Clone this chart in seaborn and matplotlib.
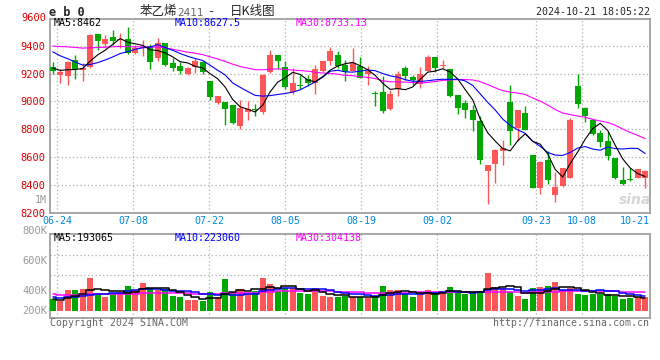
import numpy as np
import pandas as pd
import matplotlib
matplotlib.use("Agg")
import matplotlib.pyplot as plt
import seaborn as sns

# eb0 daily candles, 2024-06-21 .. 2024-10-21 (80 sessions)
open_ = [9250, 9188, 9181, 9300, 9225, 9245, 9486, 9412, 9460, 9440,
         9450, 9345, 9385, 9395, 9312, 9419, 9276, 9252, 9193, 9245,
         9281, 9145, 8990, 8998, 8974, 8824, 8926, 8948, 8926, 9212,
         9329, 9245, 9069, 9119, 9164, 9133, 9221, 9288, 9329, 9260,
         9221, 9252, 9198, 9062, 9069, 8943, 9086, 9236, 9174, 9126,
         9221, 9319, 9252, 9229, 9045, 8990, 8936, 8860, 8500, 8550,
         8645, 8998, 8807, 8919, 8614, 8383, 8579, 8331, 8395, 8455,
         9114, 8955, 8864, 8771, 8717, 8598, 8436, 8448, 8455, 8455]
high = [9280, 9229, 9290, 9336, 9276, 9482, 9486, 9479, 9514, 9490,
        9533, 9407, 9443, 9412, 9455, 9419, 9312, 9283, 9245, 9312,
        9290, 9145, 9038, 8998, 8974, 9014, 9000, 8983, 9198, 9367,
        9329, 9288, 9236, 9188, 9186, 9264, 9290, 9388, 9360, 9300,
        9383, 9317, 9252, 9074, 9181, 9079, 9221, 9252, 9188, 9245,
        9336, 9319, 9300, 9229, 9045, 9007, 8974, 8895, 8545, 8657,
        8721, 9121, 8940, 8967, 8614, 8574, 8648, 8498, 8521, 8883,
        9193, 8964, 8864, 8795, 8788, 8598, 8533, 8526, 8519, 8507]
low = [9200, 9133, 9121, 9164, 9150, 9240, 9371, 9383, 9407, 9383,
       9340, 9340, 9324, 9229, 9288, 9252, 9217, 9193, 9188, 9205,
       9195, 9007, 8979, 8831, 8836, 8800, 8864, 8895, 8912, 9205,
       9229, 9086, 9055, 9086, 9110, 9057, 9212, 9264, 9240, 9145,
       9217, 9169, 9117, 8967, 8919, 8936, 9038, 9157, 9117, 9093,
       9217, 9212, 9236, 9031, 8907, 8883, 8788, 8555, 8269, 8419,
       8545, 8688, 8717, 8795, 8379, 8340, 8407, 8283, 8390, 8450,
       8950, 8855, 8760, 8674, 8579, 8443, 8402, 8431, 8450, 8379]
close = [9215, 9212, 9283, 9229, 9240, 9479, 9436, 9450, 9436, 9450,
         9348, 9379, 9393, 9281, 9419, 9264, 9240, 9217, 9240, 9293,
         9210, 9031, 9038, 8943, 8848, 8950, 8945, 8938, 9186, 9329,
         9293, 9102, 9133, 9110, 9129, 9229, 9288, 9364, 9257, 9212,
         9276, 9169, 9221, 9055, 8931, 9057, 9198, 9181, 9152, 9198,
         9319, 9236, 9264, 9038, 8950, 8936, 8871, 8579, 8545, 8652,
         8669, 8788, 8940, 8795, 8383, 8567, 8438, 8388, 8521, 8864,
         8983, 8895, 8764, 8712, 8610, 8455, 8407, 8436, 8514, 8502]
volume_k = [186, 150, 324, 324, 335, 509, 256, 224, 256, 303,
            398, 324, 435, 351, 324, 335, 229, 213, 166, 166,
            155, 292, 218, 493, 292, 335, 256, 319, 509, 414,
            319, 360, 351, 281, 256, 351, 229, 213, 213, 240,
            213, 213, 193, 240, 398, 324, 324, 256, 213, 256,
            324, 292, 292, 382, 281, 256, 272, 308, 588, 371,
            360, 292, 229, 177, 351, 371, 398, 450, 324, 360,
            256, 245, 256, 265, 256, 229, 177, 202, 213, 213]

# sessions before the window, only needed to start the moving averages
warmup_close = [9330, 9350, 9360, 9380, 9400, 9390, 9370, 9350, 9380, 9400,
                9410, 9390, 9380, 9345, 9480, 9520, 9550, 9540, 9510, 9515,
                9500, 9490, 9470, 9455, 9439, 9300, 9260, 9220, 9205]
warmup_vol_k = [270, 280, 260, 290, 275, 265, 285, 270, 280, 275,
                270, 285, 260, 290, 275, 280, 265, 270, 285, 280,
                260, 250, 270, 255, 260, 180, 170, 175, 174]

date_labels = ["06-24", "07-08", "07-22", "08-05", "08-19",
               "09-02", "09-23", "10-08", "10-21"]
price_ticks = [8200, 8400, 8600, 8800, 9000, 9200, 9400]

RED = "#FF5757"
GREEN = "#00A800"
GRID = "#b0b0b0"
MONO = "DejaVu Sans Mono"

sns.set_style("white")
plt.rcParams["font.family"] = [MONO, "Noto Sans CJK SC"]

W, H = 660, 360
def fx(x):
    return x / W
def fy(y):
    return 1 - y / H

# trading calendar (exchange closed 09-16/17 and 10-01..10-07)
days = pd.bdate_range("2024-06-21", "2024-10-21")
holidays = pd.to_datetime(["2024-09-16", "2024-09-17", "2024-10-01", "2024-10-02",
                           "2024-10-03", "2024-10-04", "2024-10-07"])
days = days[~days.isin(holidays)]
day_str = list(days.strftime("%m-%d"))
idx = np.arange(len(close))

# sina spaces its date grid a little wider than the candles
tick_pos = [(day_str.index(d) - 1) * 7.6 / 7.5 + 0.6 for d in date_labels]

n0 = len(warmup_close)
c_all = pd.Series(warmup_close + close)
v_all = pd.Series(warmup_vol_k + volume_k)
ma = {n: c_all.rolling(n).mean().to_numpy()[n0:] for n in (5, 10, 30)}
vma = {n: v_all.rolling(n).mean().to_numpy()[n0:] for n in (5, 10, 30)}

o = np.array(open_)
c = np.array(close)
colors = np.where(c >= o, RED, GREEN)

fig = plt.figure(figsize=(6.6, 3.6), dpi=100)
fig.patch.set_facecolor("white")

ax = fig.add_axes([fx(50), fy(213.3), fx(600), 194.3 / H])
vax = fig.add_axes([fx(50), fy(318.3), fx(600), 84 / H])

xlim = (-0.36, 79.64)

# price panel
ax.vlines(idx, low, high, colors=colors, linewidth=1, zorder=3)
ax.bar(idx, np.maximum(np.abs(c - o), 6), bottom=np.minimum(o, c), width=0.75,
       color=colors, linewidth=0, zorder=4)
sns.lineplot(x=idx, y=ma[30], ax=ax, color="#FF00FF", linewidth=0.8, zorder=5)
sns.lineplot(x=idx, y=ma[10], ax=ax, color="#0000FF", linewidth=0.8, zorder=5)
sns.lineplot(x=idx, y=ma[5], ax=ax, color="black", linewidth=0.8, zorder=6)

ax.set_xlim(*xlim)
ax.set_ylim(8200, 9590)
ax.set_yticks(price_ticks)
ax.set_yticklabels([str(t) for t in price_ticks])
ax.set_xticks(tick_pos)
ax.set_xticklabels(date_labels)
ax.get_xticklabels()[-1].set_horizontalalignment("right")
ax.tick_params(axis="y", length=0, pad=3, labelcolor="#E00000", labelsize=7.5)
ax.tick_params(axis="x", length=0, pad=2, labelcolor="#0088DD", labelsize=7.2)
ax.grid(True, color=GRID, linestyle=(0, (1, 2)), linewidth=0.9)
ax.set_xlabel("")
ax.set_ylabel("")
ax.text(-0.006, 9600, "9600", transform=ax.get_yaxis_transform(), ha="right",
        va="center", color="#E00000", fontsize=7.5, clip_on=False)

# volume panel
vax.bar(idx, volume_k, width=0.8, color=colors, linewidth=0, zorder=3)
for n, col in ((30, "#FF00FF"), (10, "#0000FF"), (5, "black")):
    sns.lineplot(x=idx, y=vma[n], ax=vax, color=col, linewidth=1.1,
                 drawstyle="steps-mid", zorder=5)
vax.set_xlim(*xlim)
vax.set_ylim(-120, 1207)
vax.set_yticks([564, 880])
vax.set_yticklabels([])
vax.set_xticks(tick_pos)
vax.set_xticklabels([])
vax.tick_params(length=0)
vax.grid(True, color=GRID, linestyle=(0, (1, 2)), linewidth=0.9)
vax.set_xlabel("")
vax.set_ylabel("")

for a in (ax, vax):
    for s in a.spines.values():
        s.set_color("#a0a0a0")
        s.set_linewidth(1.3)

# header texts
fig.text(fx(49), fy(12), "e b 0", fontsize=8.6, fontweight="bold", va="center")
fig.text(fx(140), fy(12), "苯乙烯", fontsize=9, va="center", family="Noto Sans CJK SC")
fig.text(fx(177), fy(12.5), "2411", fontsize=7.6, va="center", color="#666666",
         family="DejaVu Sans")
fig.text(fx(208), fy(12), "-", fontsize=9, va="center")
fig.text(fx(230), fy(12), "日K线图", fontsize=9, va="center",
         family=["Noto Sans CJK SC", "DejaVu Sans"])
fig.text(fx(650), fy(12), "2024-10-21 18:05:22", fontsize=7.2, ha="right", va="center")

fig.text(fx(54), fy(23.3), "MA5:8462", fontsize=7.2, va="center", color="black")
fig.text(fx(175), fy(23.3), "MA10:8627.5", fontsize=7.2, va="center", color="#0000FF")
fig.text(fx(295.7), fy(23.3), "MA30:8733.13", fontsize=7.2, va="center", color="#FF00FF")
fig.text(fx(47), fy(200), "1M", fontsize=7.2, ha="right", va="center", color="#999999")

fig.text(fx(54), fy(237.7), "MA5:193065", fontsize=7.2, va="center", color="black")
fig.text(fx(175), fy(237.7), "MA10:223060", fontsize=7.2, va="center", color="#0000FF")
fig.text(fx(295.7), fy(237.7), "MA30:304138", fontsize=7.2, va="center", color="#FF00FF")
for lab, yy in (("800K", 231), ("600K", 261), ("400K", 291), ("200K", 311)):
    fig.text(fx(47), fy(yy), lab, fontsize=7.5, ha="right", va="center", color="#999999")

fig.text(fx(50), fy(323.5), "Copyright 2024 SINA.COM", fontsize=7.1, va="center",
         color="#666666")
fig.text(fx(649), fy(323.5), "http://finance.sina.com.cn", fontsize=7.1, ha="right",
         va="center", color="#666666")
fig.text(fx(635), fy(200), "sina", fontsize=10, ha="center", va="center",
         color="#d6d6d6", style="italic", fontweight="bold", family="DejaVu Sans")

fig.savefig("out.png", dpi=100)
